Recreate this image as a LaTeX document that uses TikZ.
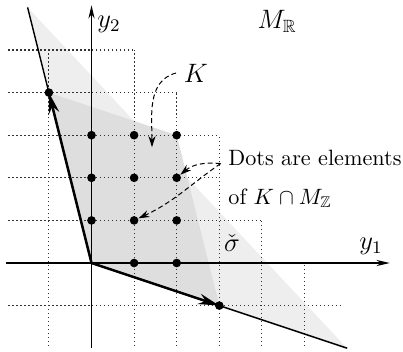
\documentclass[tikz,border=0pt]{standalone}
\usepackage{amsmath,amssymb}
\usetikzlibrary{arrows.meta}

\begin{document}
\begin{tikzpicture}[x=0.675cm, y=0.675cm,
  lat/.style={circle, fill=black, inner sep=0pt, minimum size=3.9pt},
  grd/.style={black!80, line width=0.5pt, dash pattern=on 0.55pt off 1.25pt},
  ray/.style={line width=0.65pt},
  gen/.style={-{Stealth[length=9.5pt,width=4.8pt]}, line width=1.1pt},
  axs/.style={-{Stealth[length=6pt,width=2.8pt]}, line width=0.6pt},
  lbl/.style={font=\large},
  note/.style={-{Stealth[length=5pt,width=3.2pt]}, dash pattern=on 2.2pt off 1.4pt, line width=0.45pt}]
\useasboundingbox (-2.148,-2.089) rectangle (7.312,6.174);
\coordinate (o) at (0,0); \coordinate (a) at (-1.5,6); \coordinate (b) at (6,-2);
\coordinate (u) at (-1,4); \coordinate (w) at (2,3); \coordinate (v) at (3,-1);
\fill[gray!13] (o) -- (a) -- (b) -- cycle;
\fill[gray!26] (o) -- (u) -- (w) -- (v) -- cycle;
\foreach \y/\e in {5/1,4/2,3/3,2/3,1/4,-1/5.9} \draw[grd] (-1.95,\y) -- (\e,\y);
\foreach \x/\t in {-1/5,1/5,2/4,3/3,4/1,5/0} \draw[grd] (\x,-1.95) -- (\x,\t);
\draw[axs] (-2,0) -- (7,0);
\draw[axs] (0,-2) -- (0,6.05);
\draw[ray] (a) -- (o) -- (b);
\draw[gen] (o) -- (u); \draw[gen] (o) -- (v);
\foreach \x/\y in {0/1,0/2,0/3,1/1,1/2,1/3,2/1,2/2,2/3,1/0,2/0,-1/4,3/-1}
  \node[lat] (d\x\y) at (\x,\y) {};
\node[lbl] (ly1) at (6.56,0.40) {$y_1$};
\node[lbl] (ly2) at (0.41,5.61) {$y_2$};
\node[lbl] (mr) at (4.36,5.66) {$M_{\mathbb{R}}$};
\node[lbl] (sg) at (3.30,0.47) {$\check{\sigma}$};
\node[lbl] (kl) at (2.45,4.46) {$K$};
\coordinate (kt) at (1.42,2.72);
\node[anchor=west, align=left] (dots) at (3.03,1.97) {Dots are elements\\[5.5pt]of $K\cap M_{\mathbb{Z}}$};
\draw[note] (kl.west) to[out=195,in=90] (kt);
\draw[note] ([yshift=7pt]dots.west) to[out=175,in=40] (d22);
\draw[note] ([yshift=7pt]dots.west) to[out=215,in=25] (d11);
\end{tikzpicture}
\end{document}
